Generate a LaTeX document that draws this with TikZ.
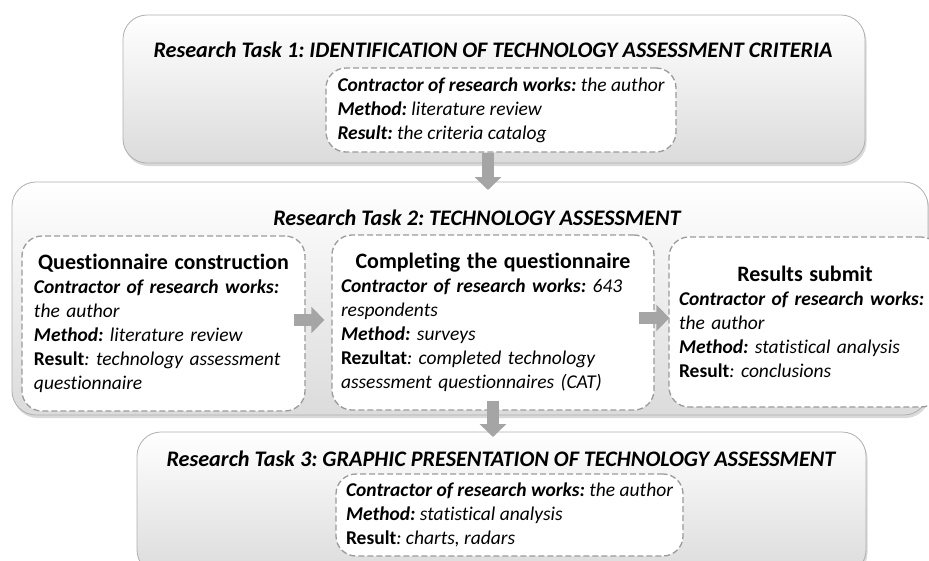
\documentclass[tikz,border=0pt]{standalone}
\usepackage{fontspec}
\setmainfont{Carlito}[Ligatures=NoCommon]
\usetikzlibrary{shadows,arrows.meta}

\definecolor{framegray}{RGB}{175,175,175}
\definecolor{arrowgray}{RGB}{165,165,165}
\definecolor{dashgray}{RGB}{155,155,155}

\newcommand\lbl[1]{{\bfseries\itshape #1}}
\newcommand\lblup[1]{{\bfseries #1}}
\newcommand\val[1]{{\itshape #1}}
\newcommand\stephead[1]{{\centering\fontsize{22}{24}\selectfont\bfseries #1\par}\raggedright}

\tikzset{
  taskbox/.style={draw=framegray, line width=0.8pt, rounded corners=24pt,
    top color=white, bottom color=black!14, inner sep=0pt,
    drop shadow={opacity=0.3, shadow xshift=1.5pt, shadow yshift=-3pt}},
  stepbox/.style={draw=dashgray, dash pattern=on 6pt off 3pt, line width=1.3pt,
    fill=white, rounded corners=20pt, inner sep=0pt,
    font=\fontsize{19.5}{24}\selectfont\frenchspacing},
  detailbox/.style={stepbox, align=left},
  tasktitle/.style={font=\fontsize{22.2}{26}\selectfont\bfseries\itshape\frenchspacing, inner sep=0pt},
  flow/.style={draw=arrowgray, line width=12pt, -{Triangle[width=26pt,length=13pt]}},
}

\begin{document}
\frenchspacing
\begin{tikzpicture}[x=1pt, y=-1pt]
\useasboundingbox (0,0) rectangle (929,560);
\clip (0,0) rectangle (929,560);

% three research tasks
\node[taskbox, minimum width=742pt, minimum height=148pt] (t1) at (494,89) {};
\node[taskbox, minimum width=916pt, minimum height=233pt] (t2) at (470,298.5) {};
\node[taskbox, minimum width=729pt, minimum height=142pt] (t3) at (501.5,503) {};

\node[tasktitle] (h1) at (493,50) {Research Task 1: IDENTIFICATION OF TECHNOLOGY ASSESSMENT CRITERIA};
\node[tasktitle] (h2) at (477,218) {Research Task 2: TECHNOLOGY ASSESSMENT};
\node[tasktitle] (h3) at (501,459) {Research Task 3: GRAPHIC PRESENTATION OF TECHNOLOGY ASSESSMENT};

% task 1 details
\node[detailbox, minimum width=350pt, minimum height=84pt] (s1) at (501,110)
  {\lbl{Contractor of research works:} \val{the author}\\
   \lbl{Method:} \val{literature review}\\
   \lbl{Result:} \val{the criteria catalog}};

% task 2 steps
\node[stepbox, minimum width=283pt, minimum height=175pt, text width=259pt] (q) at (163.5,323.5)
  {\stephead{Questionnaire construction}
   \lbl{Contractor of research works:}\\
   \val{the author}\\
   \lbl{Method:} \val{literature review}\\
   \lblup{Result}\val{: technology assessment}\\
   \val{questionnaire}};

\node[stepbox, minimum width=322pt, minimum height=175pt, text width=304pt] (c) at (493,322.5)
  {\stephead{Completing the questionnaire}
   \lbl{Contractor of research works:} \val{643}\\
   \val{respondents}\\
   \lbl{Method:} \val{surveys}\\
   \lblup{Rezultat}\val{: completed technology}\\
   \val{assessment questionnaires (CAT)}};

\node[stepbox, minimum width=272pt, minimum height=170pt, text width=252pt] (r) at (805,322)
  {\stephead{Results submit}
   \lbl{Contractor of research works:}\\
   \val{the author}\\
   \lbl{Method:} \val{statistical analysis}\\
   \lblup{Result}\val{: conclusions}};

% task 3 details
\node[detailbox, minimum width=347pt, minimum height=82pt] (s3) at (509.5,515)
  {\lbl{Contractor of research works:} \val{the author}\\
   \lbl{Method:} \val{statistical analysis}\\
   \lblup{Result}\val{: charts, radars}};

% flow arrows
\coordinate (a1end) at (488,190);
\coordinate (a3end) at (493,437);
\draw[flow] (s1.south -| a1end) -- (a1end);
\draw[flow] ([xshift=-12pt,yshift=3.5pt]q.east) -- ([xshift=-7pt,yshift=2.5pt]c.west);
\draw[flow] ([xshift=-16pt,yshift=4.5pt]c.east) -- ([xshift=1pt,yshift=4pt]r.west);
\draw[flow] ([yshift=10pt]c.south) -- (a3end);
\end{tikzpicture}
\end{document}
